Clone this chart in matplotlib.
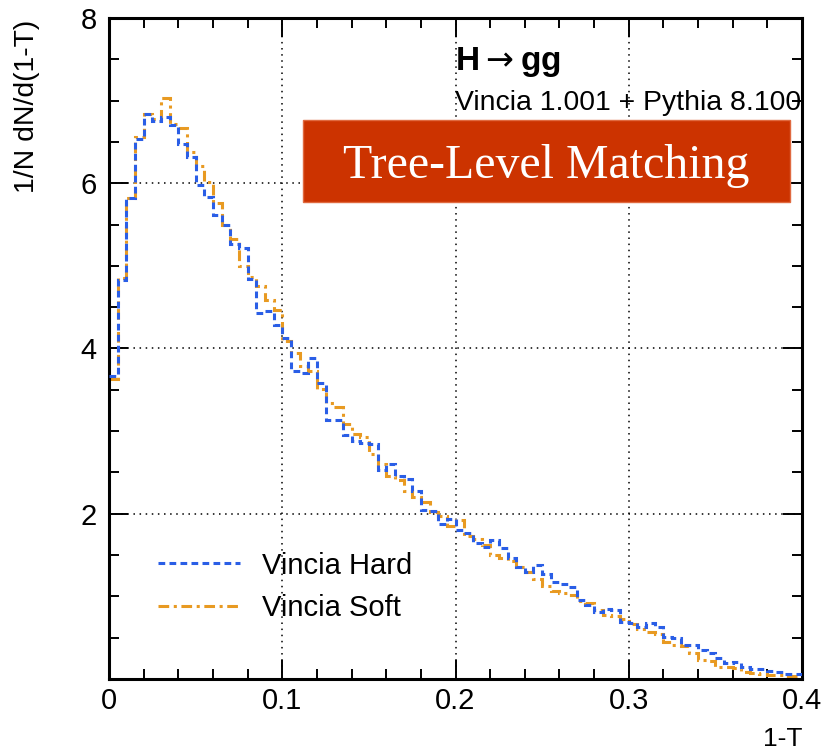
import numpy as np
import matplotlib
matplotlib.use("Agg")
import matplotlib.pyplot as plt
from matplotlib.patches import Rectangle

plt.rcParams['font.family'] = ['Liberation Sans', 'DejaVu Sans']

# 1-T histogram, 80 bins of width 0.005 from 0 to 0.4
edges = np.linspace(0.0, 0.4, 81)

vincia_hard = [3.67, 4.83, 5.82, 6.54, 6.84, 6.75, 6.80, 6.70, 6.47, 6.32,
               5.98, 5.83, 5.61, 5.50, 5.27, 5.22, 4.84, 4.43, 4.45, 4.28,
               4.13, 3.73, 3.70, 3.89, 3.58, 3.13, 3.14, 2.95, 2.88, 2.86,
               2.84, 2.53, 2.60, 2.46, 2.42, 2.28, 2.05, 2.03, 1.87, 1.94,
               1.80, 1.77, 1.65, 1.60, 1.68, 1.58, 1.46, 1.36, 1.29, 1.38,
               1.27, 1.17, 1.15, 1.11, 0.96, 0.89, 0.81, 0.85, 0.83, 0.69,
               0.68, 0.63, 0.68, 0.63, 0.51, 0.50, 0.41, 0.41, 0.35, 0.31,
               0.25, 0.19, 0.20, 0.14, 0.12, 0.12, 0.10, 0.09, 0.06, 0.06]

vincia_soft = [3.63, 4.85, 5.82, 6.56, 6.84, 6.78, 7.03, 6.72, 6.67, 6.38,
               6.21, 6.01, 5.76, 5.50, 5.32, 5.00, 4.86, 4.75, 4.59, 4.47,
               4.09, 3.94, 3.79, 3.73, 3.51, 3.34, 3.29, 3.09, 2.97, 2.93,
               2.72, 2.60, 2.46, 2.41, 2.28, 2.20, 2.14, 2.02, 1.97, 1.85,
               1.92, 1.73, 1.69, 1.62, 1.50, 1.46, 1.43, 1.35, 1.29, 1.21,
               1.12, 1.06, 1.04, 1.02, 0.94, 0.92, 0.83, 0.77, 0.76, 0.72,
               0.66, 0.61, 0.57, 0.54, 0.45, 0.41, 0.40, 0.31, 0.23, 0.22,
               0.15, 0.14, 0.13, 0.085, 0.07, 0.065, 0.05, 0.045, 0.04, 0.03]

x_ticks = [0, 0.1, 0.2, 0.3, 0.4]
x_ticklabels = ["0", "0.1", "0.2", "0.3", "0.4"]
y_ticks = [2, 4, 6, 8]

fig = plt.figure(figsize=(8.23, 7.54), dpi=100)
ax = fig.add_axes([0.1325, 0.0995, 0.842, 0.8767])

ax.stairs(vincia_hard, edges, baseline=None, color='#2a5ee6', lw=2.2,
          linestyle=(0, (2.2, 1.4)), label='Vincia Hard', zorder=3)
ax.stairs(vincia_soft, edges, baseline=None, color='#e89a22', lw=2.2,
          linestyle=(0, (3.5, 1.5, 1.0, 1.5)), label='Vincia Soft', zorder=2)

ax.set_xlim(0, 0.4)
ax.set_ylim(0, 8)
ax.set_xticks(x_ticks)
ax.set_xticklabels(x_ticklabels)
ax.set_yticks(y_ticks)
ax.set_xticks(np.arange(0, 0.401, 0.02), minor=True)
ax.set_yticks(np.arange(0, 8.01, 0.5), minor=True)
ax.tick_params(which='both', direction='in', top=True, right=True,
               width=1.4, labelsize=21)
ax.tick_params(which='major', length=14)
ax.tick_params(which='minor', length=7.5)
ax.tick_params(axis='x', pad=6)
ax.tick_params(axis='y', pad=9)
for s in ax.spines.values():
    s.set_linewidth(2.2)

ax.grid(True, which='major', color='black', linestyle=(0, (1, 3)), lw=1.1)

ax.set_ylabel('1/N dN/d(1-T)', fontsize=20.4, loc='top')
ax.yaxis.set_label_coords(-0.1, 0.998)
ax.set_xlabel('1-T', fontsize=19, loc='right')
ax.xaxis.set_label_coords(1.0, -0.072)

ax.text(0.499, 0.933, r'H$\rightarrow$gg', transform=ax.transAxes,
        fontsize=24, fontweight='bold', va='center', ha='left')
ax.text(0.499, 0.871, 'Vincia 1.001 + Pythia 8.100', transform=ax.transAxes,
        fontsize=20.4, va='center', ha='left')

ax.add_patch(Rectangle((0.280, 0.722), 0.703, 0.124, transform=ax.transAxes,
                       facecolor='#cc3300', edgecolor='#e06a40', lw=1, zorder=5))
ax.text(0.631, 0.776, 'Tree-Level Matching', transform=ax.transAxes,
        fontsize=34.5, family='Liberation Serif', color='white',
        ha='center', va='center', zorder=6)

ax.legend(loc='lower left', bbox_to_anchor=(0.0707, 0.086), frameon=False,
          fontsize=21, handlelength=2.8, handletextpad=0.75, labelspacing=0.5,
          borderpad=0, borderaxespad=0)

fig.savefig('out.png', dpi=100)
